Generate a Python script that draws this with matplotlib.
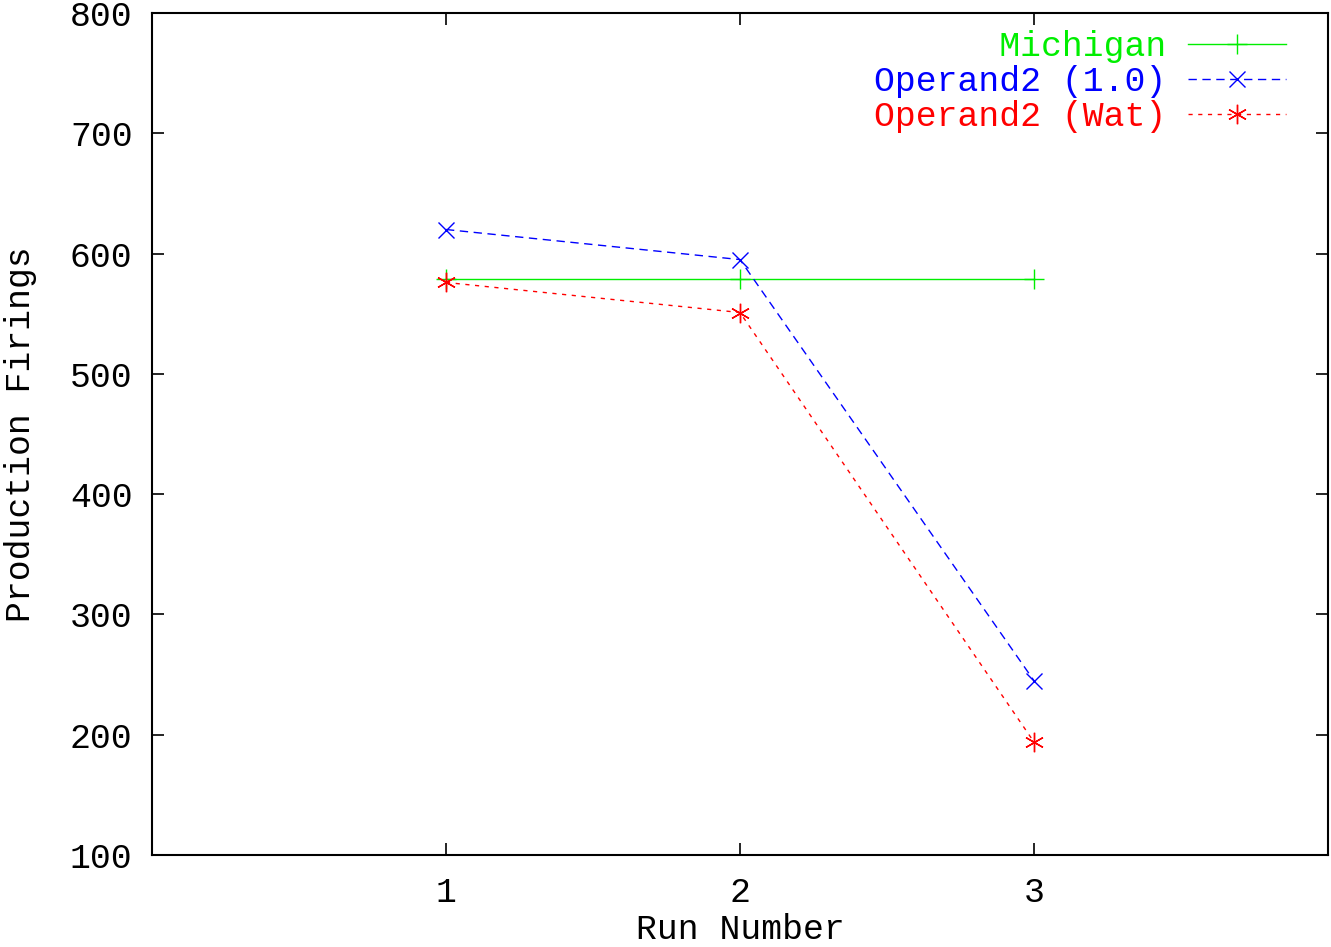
import numpy as np
import matplotlib
matplotlib.use('Agg')
import matplotlib.pyplot as plt

plt.rcParams['font.family'] = ['Liberation Mono', 'DejaVu Sans Mono']

runs = [1, 2, 3]
michigan = [579, 579, 579]
operand_10 = [620, 595, 245]
operand_wat = [576, 551, 194]

etiquetas = ['Michigan', 'Operand2 (1.0)', 'Operand2 (Wat)']
colores = ['#00ee00', '#0000ff', '#ff0000']

fig = plt.figure(figsize=(13.31, 9.47), dpi=100)
ax = fig.add_axes([0.1142, 0.0971, 0.8835, 0.8892])

ax.plot(runs, michigan, color=colores[0], lw=1.0, ls='-',
        marker='+', ms=15, mew=1.0, label=etiquetas[0].rjust(14))
ax.plot(runs, operand_10, color=colores[1], lw=1.0, ls=(0, (6, 4)),
        marker='x', ms=12, mew=1.0, label=etiquetas[1].rjust(14))
ax.plot(runs, operand_wat, color=colores[2], lw=1.0, ls=(0, (3, 4)),
        marker=(6, 2, 0), ms=14, mew=1.0, label=etiquetas[2].rjust(14))

ax.set_xlim(0, 4)
ax.set_ylim(100, 800)
ax.set_xticks([1, 2, 3])
ax.set_yticks(np.arange(100, 801, 100))

for s in ax.spines.values():
    s.set_linewidth(1.5)
ax.tick_params(direction='in', length=8.5, width=1.2, labelsize=25,
               top=True, right=True, pad=14)
ax.tick_params(axis='x', pad=15)

ax.set_xlabel('Run Number', fontsize=25, labelpad=3)
ax.set_ylabel('Production Firings', fontsize=25, labelpad=24)

leg = ax.legend(loc='upper right', bbox_to_anchor=(0.9847, 1.009), frameon=False,
                markerfirst=False, fontsize=25, handlelength=2.8,
                handletextpad=0.63, labelspacing=0.06, borderaxespad=0.3)
for txt, c in zip(leg.get_texts(), colores):
    txt.set_color(c)

fig.savefig('out.png', dpi=100)
